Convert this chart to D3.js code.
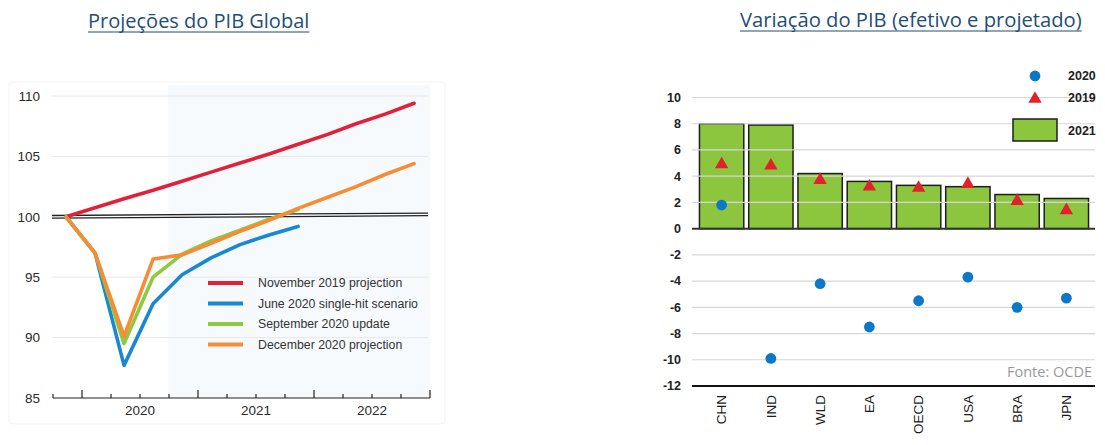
<!DOCTYPE html>
<html>
<head>
<meta charset="utf-8">
<script src="https://cdn.jsdelivr.net/npm/d3@7"></script>
<style>
  html, body { margin: 0; padding: 0; background: #ffffff; }
  svg { display: block; }
</style>
</head>
<body>
<svg id="chart" width="1105" height="445"></svg>
<script>
// ---- Left panel: global GDP index (Q4 2019 = 100), quarterly ----
const quarters = ["2019-Q4", "2020-Q1", "2020-Q2", "2020-Q3", "2020-Q4",
                  "2021-Q1", "2021-Q2", "2021-Q3", "2021-Q4",
                  "2022-Q1", "2022-Q2", "2022-Q3", "2022-Q4"];
const yearLabels = ["2020", "2021", "2022"];
const indexTicks = [85, 90, 95, 100, 105, 110];

const nov2019 = [100, 100.75, 101.5, 102.2, 102.95, 103.7, 104.45, 105.2, 106.0, 106.8, 107.7, 108.5, 109.4];
const jun2020 = [100, 97.0, 87.7, 92.8, 95.2, 96.6, 97.7, 98.5, 99.2];
const sep2020 = [100, 97.0, 89.5, 95.0, 96.9, 98.0, 98.9, 99.8, 100.6];
const dec2020 = [100, 97.0, 90.1, 96.5, 96.85, 97.8, 98.8, 99.7, 100.7, 101.6, 102.5, 103.5, 104.4];

const seriesNames = ["November 2019 projection", "June 2020 single-hit scenario",
                     "September 2020 update", "December 2020 projection"];
const seriesColors = ["#e3203a", "#1889d0", "#8fc93f", "#f78c35"];

// ---- Right panel: GDP growth by economy (%) ----
const countries = ["CHN", "IND", "WLD", "EA", "OECD", "USA", "BRA", "JPN"];
const growth2021 = [8.0, 7.9, 4.2, 3.6, 3.3, 3.2, 2.6, 2.3];
const growth2020 = [1.8, -9.9, -4.2, -7.5, -5.5, -3.7, -6.0, -5.3];
const growth2019 = [4.9, 4.8, 3.7, 3.2, 3.1, 3.4, 2.1, 1.4];
const growthTicks = [-12, -10, -8, -6, -4, -2, 0, 2, 4, 6, 8, 10];

const svg = d3.select("#chart");
const axisFont = "'Liberation Sans', Arial, sans-serif";
const titleFont = "'Open Sans', 'Noto Sans', sans-serif";

// Titles with underline
function title(text, x, y, size) {
  const t = svg.append("text")
    .attr("x", x).attr("y", y)
    .attr("font-family", titleFont)
    .attr("font-size", size)
    .attr("fill", "#1f4e79")
    .text(text);
  const w = t.node().getComputedTextLength();
  svg.append("line")
    .attr("x1", x).attr("x2", x + w)
    .attr("y1", y + 4).attr("y2", y + 4)
    .attr("stroke", "#1f4e79").attr("stroke-width", 1.2);
}
title("Projeções do PIB Global", 88, 28, 20);
title("Variação do PIB (efetivo e projetado)", 740, 27, 20.2);

// =================== Left panel ===================
const xL = d3.scaleLinear().domain([-0.45, quarters.length - 0.45]).range([53, 430]);
const yL = d3.scaleLinear().domain([85, 110]).range([398, 96]);

const left = svg.append("g");

// faint panel frame
left.append("rect")
  .attr("x", 9).attr("y", 82).attr("width", 436).attr("height", 342)
  .attr("rx", 4)
  .attr("fill", "none").attr("stroke", "#f4f4f4").attr("stroke-width", 1);

// light shading for the projection period
left.append("rect")
  .attr("x", xL(3.52)).attr("y", yL(110.9))
  .attr("width", xL(quarters.length - 0.45) - xL(3.52))
  .attr("height", yL(85) - yL(110.9))
  .attr("fill", "#f7fafd");

// horizontal grid
left.append("g").selectAll("line")
  .data(indexTicks.filter(v => v !== 85 && v !== 100))
  .join("line")
  .attr("x1", 52).attr("x2", 428)
  .attr("y1", d => yL(d)).attr("y2", d => yL(d))
  .attr("stroke", "#e8e8e8").attr("stroke-width", 1);

// y labels
left.append("g").selectAll("text")
  .data(indexTicks)
  .join("text")
  .attr("x", 40).attr("y", d => yL(d))
  .attr("dy", "0.35em")
  .attr("text-anchor", "end")
  .attr("font-family", axisFont).attr("font-size", 13.5)
  .attr("fill", "#2a2a2a")
  .text(d => d);

// double reference line at 100
[-1.3, 1.3].forEach(off => {
  left.append("line")
    .attr("x1", 52).attr("x2", 428)
    .attr("y1", yL(100) + off).attr("y2", yL(100.2) + off)
    .attr("stroke", "#222").attr("stroke-width", 1.3);
});

// x axis with quarterly ticks, taller at year boundaries
const boundaries = d3.range(quarters.length + 1).map(k => k - 0.45);
left.append("line")
  .attr("x1", xL(boundaries[0])).attr("x2", xL(boundaries[boundaries.length - 1]))
  .attr("y1", yL(85)).attr("y2", yL(85))
  .attr("stroke", "#222").attr("stroke-width", 1.2);
left.append("g").selectAll("line")
  .data(boundaries)
  .join("line")
  .attr("x1", d => xL(d)).attr("x2", d => xL(d))
  .attr("y1", yL(85))
  .attr("y2", (d, k) => (k % 4 === 1) ? yL(85) - 8 : yL(85) - 4)
  .attr("stroke", "#222").attr("stroke-width", 1.2);

// year labels centred on their four quarters
left.append("g").selectAll("text")
  .data(yearLabels)
  .join("text")
  .attr("x", d => {
    const first = quarters.indexOf(d + "-Q1");
    const last = quarters.indexOf(d + "-Q4");
    return (xL(first - 0.45) + xL(last + 0.55)) / 2;
  })
  .attr("y", 415)
  .attr("text-anchor", "middle")
  .attr("font-family", axisFont).attr("font-size", 13.5)
  .attr("fill", "#2a2a2a")
  .text(d => d);

// series lines
const lineGen = d3.line().x((d, i) => xL(i)).y(d => yL(d));
[nov2019, jun2020, sep2020, dec2020].forEach((s, k) => {
  left.append("path")
    .datum(s)
    .attr("d", lineGen)
    .attr("fill", "none")
    .attr("stroke", seriesColors[k])
    .attr("stroke-width", 3.6)
    .attr("stroke-linejoin", "round")
    .attr("stroke-linecap", "round");
});

// legend
const legL = left.append("g").attr("transform", "translate(208,283)");
seriesNames.forEach((name, k) => {
  const row = legL.append("g").attr("transform", `translate(0,${k * 20.5})`);
  row.append("line")
    .attr("x1", 0).attr("x2", 35).attr("y1", 0).attr("y2", 0)
    .attr("stroke", seriesColors[k]).attr("stroke-width", 4);
  row.append("text")
    .attr("x", 50).attr("y", 0).attr("dy", "0.35em")
    .attr("font-family", axisFont).attr("font-size", 12.3)
    .attr("fill", "#333")
    .text(name);
});

// =================== Right panel ===================
const xR = d3.scaleBand().domain(countries).range([697, 1091])
  .paddingInner(0.1).paddingOuter(0.05);
const yR = d3.scaleLinear().domain([-12, 10]).range([386, 97.5]);

const right = svg.append("g");

// bars (2021)
right.append("g").selectAll("rect")
  .data(countries)
  .join("rect")
  .attr("x", d => xR(d))
  .attr("width", xR.bandwidth())
  .attr("y", (d, i) => yR(growth2021[i]))
  .attr("height", (d, i) => yR(0) - yR(growth2021[i]))
  .attr("fill", "#8cc63f")
  .attr("stroke", "#1e1e1e").attr("stroke-width", 1.5);

// grid drawn over the bars
right.append("g").selectAll("line")
  .data(growthTicks.filter(v => v !== 0 && v !== -12))
  .join("line")
  .attr("x1", 692).attr("x2", 1095)
  .attr("y1", d => yR(d)).attr("y2", d => yR(d))
  .attr("stroke", "#d6d6d6").attr("stroke-width", 1.2);

// zero line and bottom axis
right.append("line")
  .attr("x1", 692).attr("x2", 1095)
  .attr("y1", yR(0)).attr("y2", yR(0))
  .attr("stroke", "#333").attr("stroke-width", 2);
right.append("line")
  .attr("x1", 692).attr("x2", 1095)
  .attr("y1", yR(-12)).attr("y2", yR(-12))
  .attr("stroke", "#111").attr("stroke-width", 1.8);

// y labels
right.append("g").selectAll("text")
  .data(growthTicks)
  .join("text")
  .attr("x", 681).attr("y", d => yR(d))
  .attr("dy", "0.35em")
  .attr("text-anchor", "end")
  .attr("font-family", axisFont).attr("font-size", 12.5)
  .attr("font-weight", "bold")
  .attr("fill", "#222")
  .text(d => d);

// category labels, rotated
right.append("g").selectAll("text")
  .data(countries)
  .join("text")
  .attr("transform", d => `translate(${xR(d) + xR.bandwidth() / 2},395) rotate(-90)`)
  .attr("dy", "0.35em")
  .attr("text-anchor", "end")
  .attr("font-family", axisFont).attr("font-size", 13.5)
  .attr("fill", "#1a1a1a")
  .text(d => d);

// 2019 triangles
const tri = d3.symbol().type(d3.symbolTriangle).size(78);
right.append("g").selectAll("path")
  .data(countries)
  .join("path")
  .attr("transform", (d, i) => `translate(${xR(d) + xR.bandwidth() / 2},${yR(growth2019[i])})`)
  .attr("d", tri)
  .attr("fill", "#e0232b");

// 2020 dots
right.append("g").selectAll("circle")
  .data(countries)
  .join("circle")
  .attr("cx", d => xR(d) + xR.bandwidth() / 2)
  .attr("cy", (d, i) => yR(growth2020[i]))
  .attr("r", 5.4)
  .attr("fill", "#0b78c8");

// legend
const legR = right.append("g");
legR.append("circle").attr("cx", 1035).attr("cy", 76).attr("r", 5.4).attr("fill", "#0b78c8");
legR.append("path").attr("transform", "translate(1035,99)").attr("d", tri).attr("fill", "#e0232b");
legR.append("rect").attr("x", 1013).attr("y", 119).attr("width", 44).attr("height", 22)
  .attr("fill", "#8cc63f").attr("stroke", "#1e1e1e").attr("stroke-width", 1.5);
[["2020", 76], ["2019", 98], ["2021", 131]].forEach(([t, y]) => {
  legR.append("text")
    .attr("x", 1068).attr("y", y).attr("dy", "0.35em")
    .attr("font-family", axisFont).attr("font-size", 12.5)
    .attr("font-weight", "bold")
    .attr("fill", "#222")
    .text(t);
});

// source note
right.append("text")
  .attr("x", 1007).attr("y", 377)
  .attr("font-family", titleFont).attr("font-size", 14.5)
  .attr("fill", "#9a9a9a")
  .text("Fonte: OCDE");
</script>
</body>
</html>
